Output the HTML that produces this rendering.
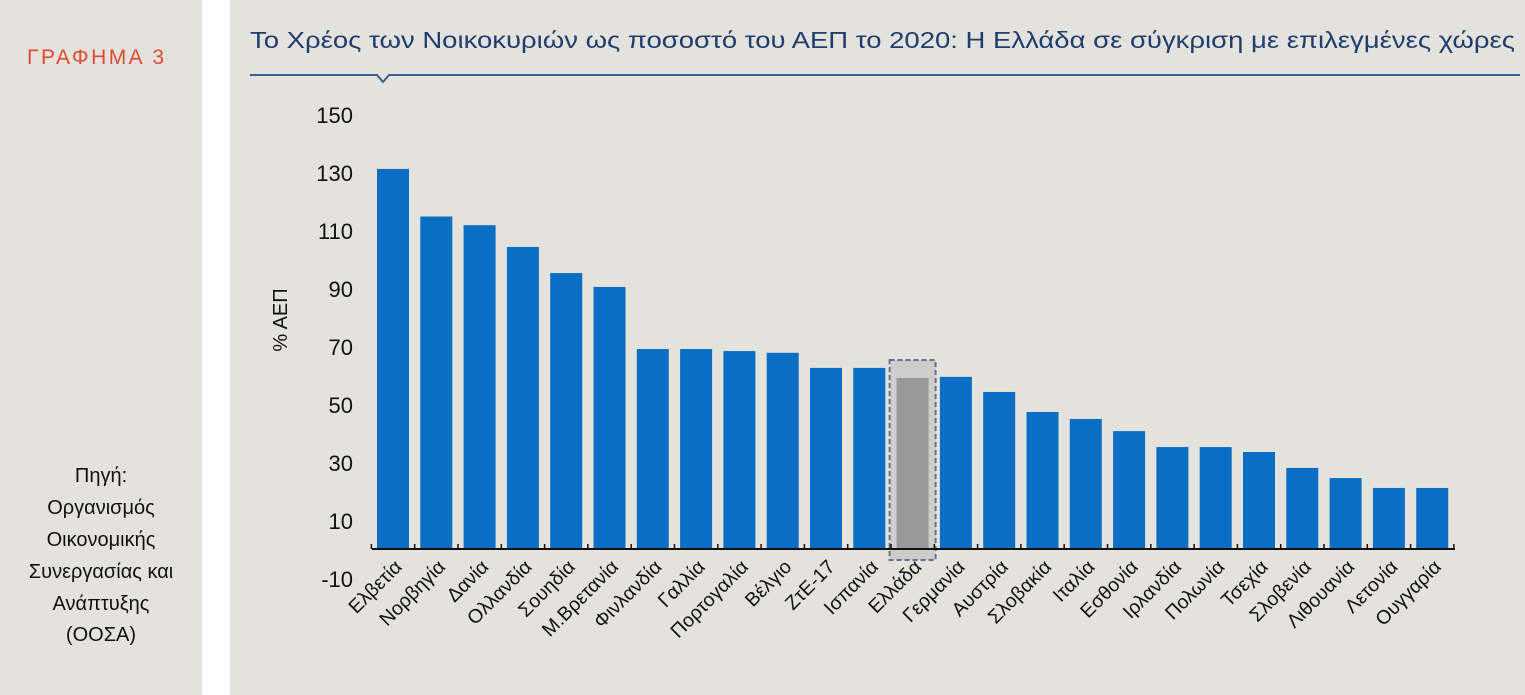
<!DOCTYPE html>
<html><head><meta charset="utf-8"><style>
body{margin:0;width:1525px;height:695px;background:#fff;overflow:hidden;font-family:"Liberation Sans",sans-serif;}
#left{position:absolute;left:0;top:0;width:202px;height:695px;background:#e4e2dd;}
#main{position:absolute;left:230px;top:0;width:1295px;height:695px;background:#e4e2dd;}
svg{position:absolute;left:0;top:0;}
</style></head><body>
<div id="left"></div>
<div id="main"></div>
<svg id="chart" width="1525" height="695">
<text x="27" y="64" fill="#e04a32" font-size="21" textLength="137">ΓΡΑΦΗΜΑ 3</text>
<g font-size="20" fill="#111" text-anchor="middle">
<text x="101" y="482">Πηγή:</text><text x="101" y="514">Οργανισμός</text><text x="101" y="546">Οικονομικής</text><text x="101" y="578">Συνεργασίας και</text><text x="101" y="610">Ανάπτυξης</text><text x="101" y="641">(ΟΟΣΑ)</text>
</g>
<text x="250" y="48" fill="#1f3d6e" font-size="23" textLength="1265" lengthAdjust="spacingAndGlyphs">Το Χρέος των Νοικοκυριών ως ποσοστό του ΑΕΠ το 2020: Η Ελλάδα σε σύγκριση με επιλεγμένες χώρες</text>
<path d="M250 75 H377 L383 82 L389 75 H1520" stroke="#3d5f8c" stroke-width="2" fill="none"/>
<text transform="translate(287,320) rotate(-90)" text-anchor="middle" font-size="20" fill="#111">% ΑΕΠ</text>
<g id="yt"></g><g id="bars"></g><g id="xl"></g>
</svg>
<script>
const categories=["Ελβετία","Νορβηγία","Δανία","Ολλανδία","Σουηδία","Μ.Βρετανία","Φινλανδία","Γαλλία","Πορτογαλία","Βέλγιο","ΖτΕ-17","Ισπανία","Ελλάδα","Γερμανία","Αυστρία","Σλοβακία","Ιταλία","Εσθονία","Ιρλανδία","Πολωνία","Τσεχία","Σλοβενία","Λιθουανία","Λετονία","Ουγγαρία"];
const values=[131.4,115,112,104.5,95.5,90.7,69.3,69.3,68.6,68,62.8,62.8,59.3,59.7,54.5,47.6,45.2,41,35.5,35.5,33.8,28.3,24.8,21.4,21.4];
const yTicks=[150,130,110,90,70,50,30,10,-10];
const highlight="Ελλάδα";
const NS="http://www.w3.org/2000/svg";
const y=v=>550-v*2.9;
const x=i=>393+i*43.3;
function mk(t,a,p){const e=document.createElementNS(NS,t);for(const k in a)e.setAttribute(k,a[k]);p.appendChild(e);return e;}
const yt=document.getElementById('yt'),bars=document.getElementById('bars'),xl=document.getElementById('xl');
yTicks.forEach(v=>{const t=mk('text',{x:353,y:y(v)+8,'text-anchor':'end','font-size':22,fill:'#111'},yt);t.textContent=v;

});
categories.forEach((c,i)=>{
 const v=values[i];const cx=x(i);
 if(c===highlight){const b=mk('rect',{x:cx-23,y:y(values[i])-18,width:46,height:550-y(values[i])+28,fill:'#cfcdc9',stroke:'#5a7396','stroke-width':2,'stroke-dasharray':'5,3'},bars);
 
 }
 const r=mk('rect',{x:cx-16,y:Math.min(y(v),550),width:32,height:Math.abs(550-y(v)),fill:c===highlight?'#999999':'#0a6ec4'},bars);
 
 
 const t=mk('text',{transform:`translate(${cx+10},568) rotate(-45)`,'text-anchor':'end','font-size':19.5,fill:'#111'},xl);t.textContent=c;
 
 
});
const ax=mk('line',{x1:372,x2:1455,y1:549,y2:549,stroke:'#111','stroke-width':2},bars);


for(let i=0;i<=categories.length;i++){const tk=mk('line',{x1:x(i)-21.6,x2:x(i)-21.6,y1:544,y2:549,stroke:'#111','stroke-width':1.5},bars);

}
</script>
</body></html>
